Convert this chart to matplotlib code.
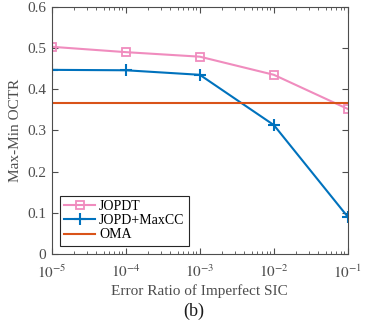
import matplotlib
matplotlib.use("Agg")
import matplotlib.pyplot as plt

plt.rcParams['font.family'] = ['Liberation Serif', 'DejaVu Serif']
plt.rcParams['mathtext.fontset'] = 'stix'

# data
error_ratio = [1e-5, 1e-4, 1e-3, 1e-2, 1e-1]
jopdt = [0.503, 0.490, 0.479, 0.435, 0.352]
jopd_maxcc = [0.447, 0.446, 0.435, 0.313, 0.090]
oma = [0.367, 0.367, 0.367, 0.367, 0.367]
xtick_labels = ['$10^{-5}$', '$10^{-4}$', '$10^{-3}$', '$10^{-2}$', '$10^{-1}$']
yticks = [0, 0.1, 0.2, 0.3, 0.4, 0.5, 0.6]

fig = plt.figure(figsize=(3.65, 3.26), dpi=100)
ax = fig.add_axes([0.142, 0.221, 0.811, 0.758])

ax.plot(error_ratio, jopdt, color='#F08CBE', marker='s', markersize=6,
        markerfacecolor='none', markeredgewidth=1.3, linewidth=1.5, label='JOPDT')
ax.plot(error_ratio, jopd_maxcc, color='#0072BD', marker='+', markersize=9,
        markeredgewidth=1.5, linewidth=1.5, label='JOPD+MaxCC')
ax.plot(error_ratio, oma, color='#D95319', linewidth=1.5, label='OMA')

ax.set_xscale('log')
ax.set_xlim(1e-5, 1e-1)
ax.set_ylim(0, 0.6)
ax.set_xticks(error_ratio)
ax.set_xticklabels(xtick_labels)
ax.set_yticks(yticks)
ax.set_yticklabels(['0', '0.1', '0.2', '0.3', '0.4', '0.5', '0.6'])

grey = '#4d4d4d'
ax.tick_params(which='both', direction='in', top=True, right=True,
               colors=grey, labelsize=11)
ax.tick_params(which='major', length=4)
ax.tick_params(which='minor', length=2)
ax.tick_params(axis='x', which='major', pad=7)
ax.tick_params(axis='y', which='major', pad=4)
for sp in ax.spines.values():
    sp.set_color(grey)
    sp.set_linewidth(0.8)

ax.set_xlabel('Error Ratio of Imperfect SIC', color=grey, fontsize=11, labelpad=2)
ax.set_ylabel('Max-Min OCTR', color=grey, fontsize=11, labelpad=4)

leg = ax.legend(loc='lower left', fontsize=10, fancybox=False, framealpha=1,
                edgecolor='#262626', borderpad=0.3, labelspacing=0.1,
                handlelength=2.2, handletextpad=0.3, borderaxespad=0.6)
leg.get_frame().set_linewidth(0.8)

fig.text(0.53, 0.03, '(b)', ha='center', fontsize=13, color='#1a1a1a')

fig.savefig('out.png', dpi=100)
